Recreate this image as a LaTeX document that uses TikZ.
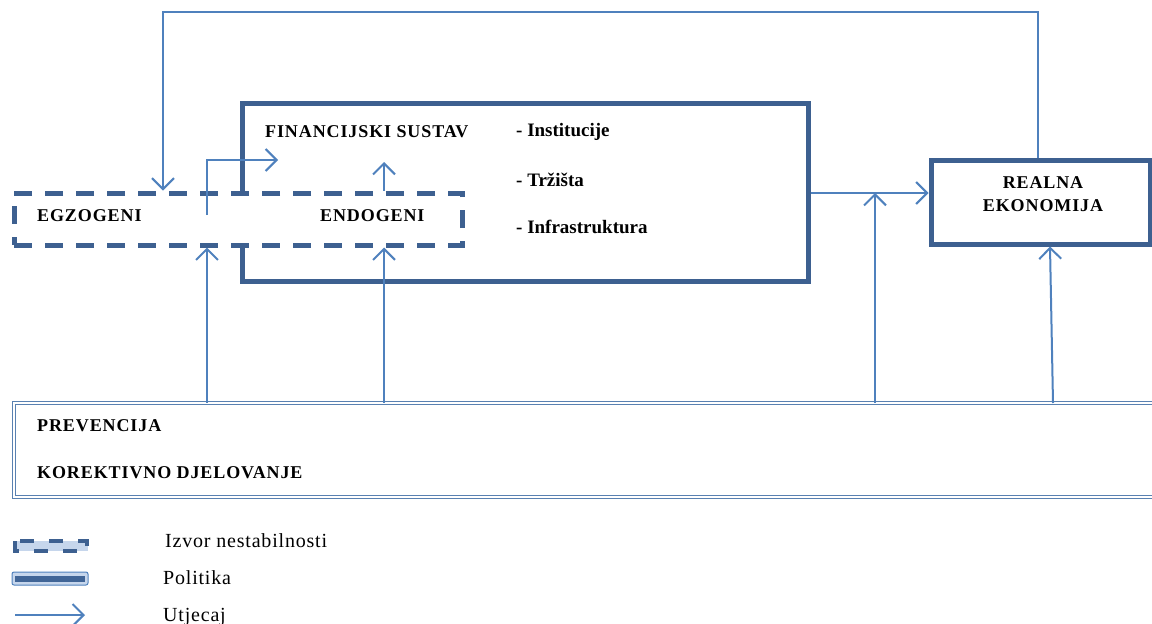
\documentclass[tikz,border=0pt]{standalone}
\usepackage{fontspec}
\setmainfont{Liberation Serif}
\newfontfamily\capsfont[LetterSpace=5]{Liberation Serif}
\newfontfamily\legfont[LetterSpace=4]{Liberation Serif}
\usetikzlibrary{arrows.meta}
\definecolor{polc}{HTML}{3D6090}
\definecolor{infc}{HTML}{4F81BD}
\definecolor{lightb}{HTML}{C6D6EC}
\tikzset{
  polbox/.style={draw=polc, line width=5pt, fill=white, rectangle, inner sep=0pt},
  srcbox/.style={draw=polc, line width=5pt, dash pattern=on 18pt off 13pt, fill=white, rectangle, inner sep=0pt},
  prevbox/.style={draw=infc!80!gray, double=white, double distance=2pt, line width=1pt, rectangle, inner sep=0pt, fill=white},
  infl/.style={draw=infc, line width=2pt, -{Straight Barb[length=11pt,width=22pt]}},
  lbl/.style={font=\fontsize{18}{20}\selectfont\bfseries\capsfont, inner sep=0pt, anchor=base west},
  item/.style={font=\fontsize{19}{20}\selectfont\bfseries, inner sep=0pt, anchor=base west},
  legtxt/.style={font=\fontsize{20}{22}\selectfont\legfont, inner sep=0pt, anchor=base west}
}
\begin{document}
\begin{tikzpicture}[x=1pt,y=-1pt]
\useasboundingbox (0,0) rectangle (1152,624);
% boxes
\node[polbox, minimum width=566pt, minimum height=178pt] (fin) at (525,192) {};
\node[srcbox, minimum width=448pt, minimum height=52pt] (dash) at (238,219) {};
\node[polbox, minimum width=219pt, minimum height=84pt] (real) at (1040.5,202) {};
\node[prevbox, minimum width=1144pt, minimum height=94pt] (prev) at (586,450) {};
% texts
\node[lbl] (fs) at (265,137) {FINANCIJSKI SUSTAV};
\node[item] (i1) at (516,136) {- Institucije};
\node[item] (i2) at (516,186) {- Tržišta};
\node[item] (i3) at (516,233) {- Infrastruktura};
\node[lbl] (egz) at (37,221) {EGZOGENI};
\node[lbl] (endo) at (320,221) {ENDOGENI};
\node[lbl, anchor=base] (rt1) at (1043,188) {REALNA};
\node[lbl, anchor=base] (rt2) at (1043,211) {EKONOMIJA};
\node[lbl] (pv) at (37,431) {PREVENCIJA};
\node[lbl] (kd) at (37,478) {KOREKTIVNO DJELOVANJE};
% arrows
\coordinate (egzsrc) at (207,215);
\draw[infl] (real.north -| 1038,0) |- (163,12) -- (dash.north -| 163,0);
\draw[infl] (egzsrc) |- (278,160);
\draw[infl] (dash.north -| 384,0) -- (384,162);
\draw[infl] (prev.north -| 207,0) -- (dash.south -| 207,0);
\draw[infl] (prev.north -| 384,0) -- (dash.south -| 384,0);
\draw[infl] (fin.east |- 0,193) -- (real.west |- 0,193);
\coordinate (join) at (875,193);
\draw[infl] (prev.north -| 875,0) -- (join);
\draw[infl] (1053,403) -- (real.south -| 1050,0);
% legend
\fill[lightb] (14,541) rectangle (88,551);
\draw[draw=polc, line width=3.5pt, dash pattern=on 14pt off 15pt] (15,541) rectangle (87,551);
\node[legtxt] (l1) at (165,547) {Izvor nestabilnosti};
\draw[draw=infc, line width=1pt, fill=lightb, rounded corners=2pt] (12,572) rectangle (88,585);
\fill[polc!85!infc] (15,575.5) rectangle (85,581.5);
\node[legtxt] (l2) at (163,584) {Politika};
\coordinate (la) at (15,615);
\coordinate (lb) at (85,615);
\draw[infl] (la) -- (lb);
\node[legtxt] (l3) at (163,621) {Utjecaj};
\end{tikzpicture}
\end{document}
